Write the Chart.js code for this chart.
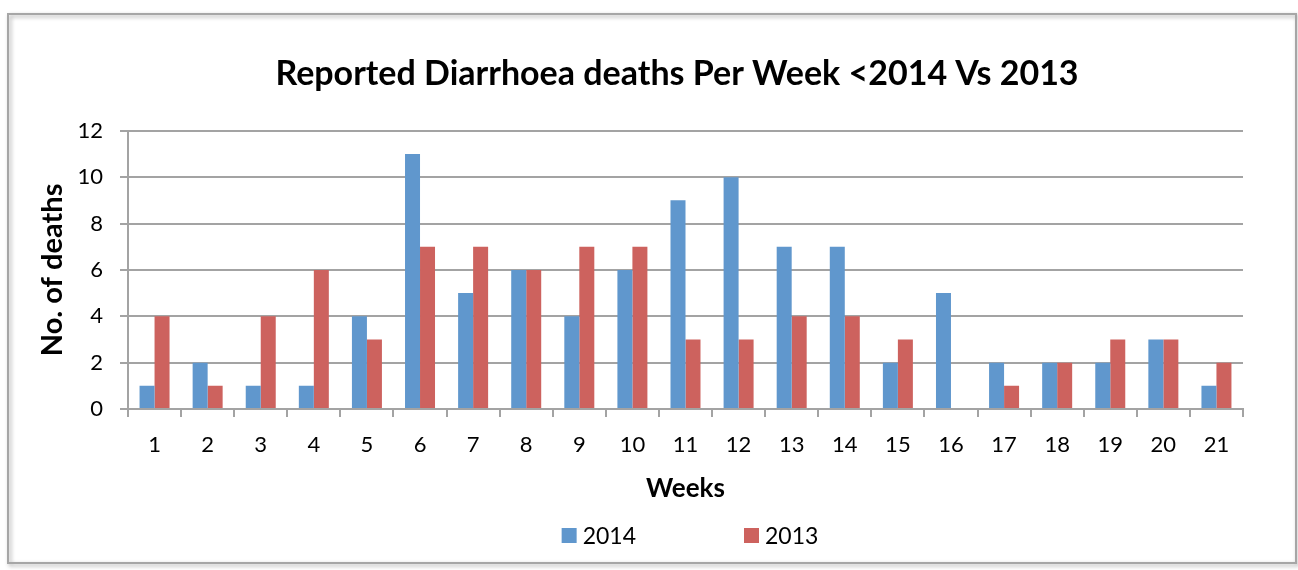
<!DOCTYPE html>
<html>
<head>
<meta charset="utf-8">
<script src="https://cdn.jsdelivr.net/npm/chart.js@4/dist/chart.umd.min.js"></script>
<style>
  html, body { margin: 0; padding: 0; background: #fff; }
  #wrap { width: 1298px; height: 570px; }
</style>
</head>
<body>
<div id="wrap"><canvas id="chart" width="1298" height="570"></canvas></div>
<script>
const weeks = ['1','2','3','4','5','6','7','8','9','10','11','12','13','14','15','16','17','18','19','20','21'];
const deaths2014 = [1, 2, 1, 1, 4, 11, 5, 6, 4, 6, 9, 10, 7, 7, 2, 5, 2, 2, 2, 3, 1];
const deaths2013 = [4, 1, 4, 6, 3, 7, 7, 6, 7, 7, 3, 3, 4, 4, 3, 0, 1, 2, 3, 3, 2];
const yTicks = [0, 2, 4, 6, 8, 10, 12];

const FONT = 'Lato, "Open Sans", sans-serif';
const GRID = '#a3a3a3';

// frame round the whole chart, like the office chart box
const frame = {
    id: 'frame',
    beforeDraw(chart) {
        const ctx = chart.ctx;
        ctx.save();
        ctx.fillStyle = '#fff';
        ctx.fillRect(0, 0, chart.width, chart.height);
        ctx.shadowColor = 'rgba(0,0,0,0.35)';
        ctx.shadowBlur = 4;
        ctx.shadowOffsetX = 2;
        ctx.shadowOffsetY = 2;
        ctx.strokeStyle = '#a6a6a6';
        ctx.lineWidth = 2;
        ctx.strokeRect(8, 14, 1288, 549);
        ctx.restore();
    },
    afterLayout(chart) {
        // title sits a bit left of the plot centre
        const t = chart.titleBlock;
        if (t) {
            t.left = 2 * 677 - t.right;
        }
    }
};

// legend drawn under the axis title
const bottomLegend = {
    id: 'bottomLegend',
    afterDraw(chart) {
        const ctx = chart.ctx;
        const box = 15, gap = 6, spacing = 108, cy = 536;
        ctx.save();
        ctx.font = '23px ' + FONT;
        ctx.textBaseline = 'middle';
        const items = chart.data.datasets.map(ds => ({
            text: ds.label,
            color: ds.backgroundColor,
            w: box + gap + ctx.measureText(ds.label).width
        }));
        let total = items.reduce((s, it) => s + it.w, 0) + spacing * (items.length - 1);
        let x = 690 - total / 2;
        items.forEach(it => {
            ctx.fillStyle = it.color;
            ctx.fillRect(x, cy - 8, box, box);
            ctx.fillStyle = '#000';
            ctx.fillText(it.text, x + box + gap, cy + 1);
            x += it.w + spacing;
        });
        ctx.restore();
    }
};

const data = {
    labels: weeks,
    datasets: [
        { label: '2014', data: deaths2014, backgroundColor: '#6097cd' },
        { label: '2013', data: deaths2013, backgroundColor: '#cd625e' }
    ]
};

const config = {
    type: 'bar',
    data,
    options: {
        responsive: false,
        animation: false,
        datasets: {
            bar: { categoryPercentage: 0.565, barPercentage: 1.0 }
        },
        layout: { padding: { left: 0, right: 55, top: 0, bottom: 66 } },
        plugins: {
            legend: { display: false },
            tooltip: { enabled: false },
            title: {
                display: true,
                fullSize: false,
                text: 'Reported Diarrhoea deaths Per Week <2014 Vs 2013',
                color: '#000',
                font: { family: FONT, size: 34, weight: 'bold', lineHeight: 1.2 },
                padding: { top: 54, bottom: 36 }
            }
        },
        scales: {
            x: {
                grid: { display: true, drawOnChartArea: false, drawTicks: true, tickLength: 8, color: GRID, lineWidth: 2 },
                border: { display: true, color: GRID, width: 2 },
                ticks: { color: '#000', font: { family: FONT, size: 22 }, padding: 15, maxRotation: 0 },
                title: {
                    display: true, text: 'Weeks', color: '#000',
                    font: { family: FONT, size: 26, weight: 'bold', lineHeight: 1.2 },
                    padding: { top: 0, bottom: 0 }
                },
                afterFit(scale) { scale.height = 95; }
            },
            y: {
                min: 0,
                max: 12,
                afterBuildTicks(scale) { scale.ticks = yTicks.map(v => ({ value: v })); },
                grid: { color: GRID, lineWidth: 2, tickLength: 8, drawTicks: true },
                border: { display: true, color: GRID, width: 2 },
                ticks: { color: '#000', font: { family: FONT, size: 22 }, padding: 17 },
                title: {
                    display: true, text: 'No. of deaths', color: '#000',
                    font: { family: FONT, size: 29, weight: 'bold', lineHeight: 1.2 },
                    padding: { top: 35, bottom: 0 }
                },
                afterFit(scale) { scale.width = 128; }
            }
        }
    },
    plugins: [frame, bottomLegend]
};

new Chart(document.getElementById('chart'), config);
</script>
</body>
</html>
